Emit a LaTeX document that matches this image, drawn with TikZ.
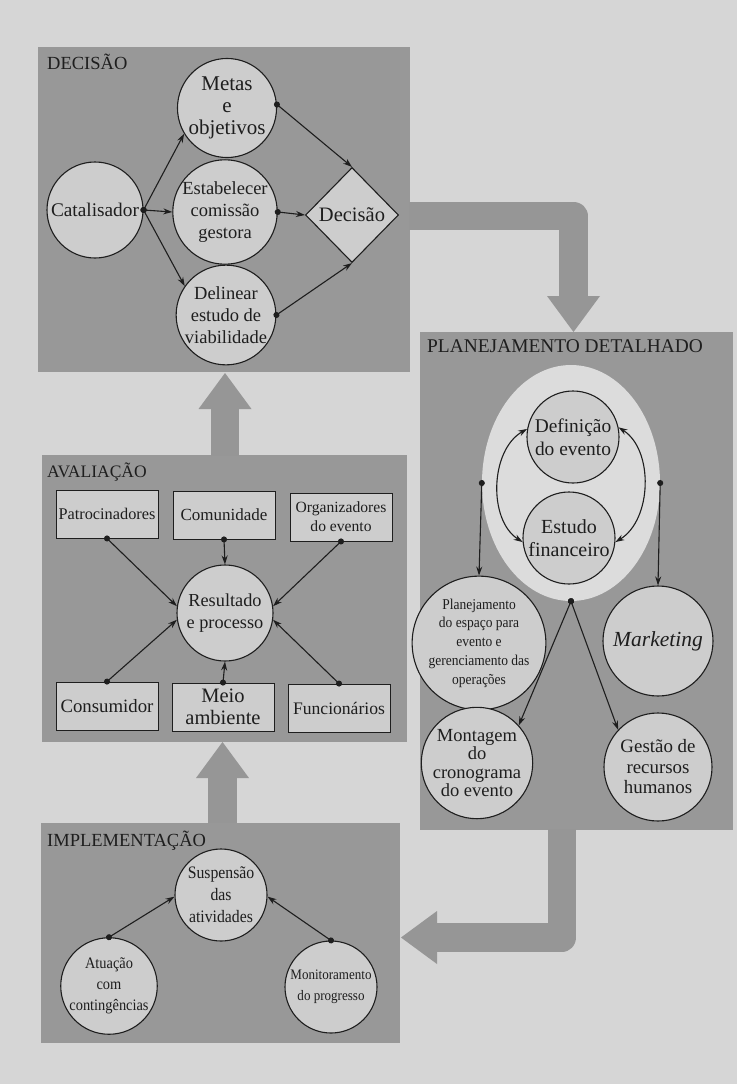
\documentclass[tikz,border=0pt]{standalone}
\usepackage{fontspec}
\setmainfont{Liberation Serif}
\newfontfamily\condfont[FakeStretch=0.9]{Liberation Serif}
\usetikzlibrary{shapes.geometric,arrows.meta}
\definecolor{bg}{RGB}{214,214,214}
\definecolor{boxgray}{RGB}{152,152,152}
\definecolor{circfill}{RGB}{205,205,205}
\definecolor{ellfill}{RGB}{220,220,220}
\definecolor{arrgray}{RGB}{150,150,150}
\definecolor{ink}{RGB}{30,30,30}
\newcommand\fsz[2]{\fontsize{#1}{#2}\selectfont}
\begin{document}
\begin{tikzpicture}[x=1pt,y=-1pt,
 panel/.style={fill=boxgray, draw=none, inner sep=0, anchor=north west},
 hdr/.style={anchor=base west, inner sep=0, font=\fsz{18.5}{22}, text=ink},
 circ/.style={circle, draw=ink, line width=1.1pt, fill=circfill, inner sep=0, align=center, text=ink, font=\fsz{18.5}{22}},
 rbox/.style={rectangle, draw=ink, line width=0.9pt, fill=circfill, inner sep=0, minimum width=102pt, minimum height=48pt, align=center, text=ink},
 conn/.style={draw=ink, line width=1.1pt, {Circle[length=6pt]}-{Stealth[length=9pt,width=6pt]}, shorten <=-3pt},
 arctwo/.style={draw=ink, line width=1.1pt, {Stealth[length=9pt,width=6pt]}-{Stealth[length=9pt,width=6pt]}},
 bigarrow/.style={draw=arrgray, line width=28.5pt, line join=round, -{Triangle[length=36pt,width=53pt,line width=0pt]}},
]
\useasboundingbox (0,0) rectangle (737,1084);
\fill[bg] (0,0) rectangle (737,1084);

% panels
\node[panel, minimum width=372pt, minimum height=325pt] (pdec) at (38,47) {};
\node[panel, minimum width=313pt, minimum height=498pt] (pplan) at (420,332) {};
\node[panel, minimum width=365pt, minimum height=287pt] (paval) at (42,455) {};
\node[panel, minimum width=359pt, minimum height=220pt] (pimpl) at (41,823) {};

% big arrows
\coordinate (a1s) at (409,216); \coordinate (a1c) at (573.5,216); \coordinate (a1e) at (573.5,332);
\coordinate (a2s) at (562,829); \coordinate (a2c) at (562,937.5); \coordinate (a2e) at (401,937.5);
\coordinate (a3s) at (225,456); \coordinate (a3e) at (225,373);
\coordinate (a4s) at (222.5,823); \coordinate (a4e) at (222.5,742);
\draw[bigarrow] (a1s) -- (a1c) -- (a1e);
\draw[bigarrow] (a2s) -- (a2c) -- (a2e);
\draw[bigarrow] (a3s) -- (a3e);
\draw[bigarrow] (a4s) -- (a4e);

% headers
\node[hdr] (hdec) at (47,69) {DECISÃO};
\node[hdr, font=\fsz{17.5}{20}] (haval) at (47,477) {AVALIAÇÃO};
\node[hdr, font=\fsz{19.4}{22}] (hplan) at (427,352) {PLANEJAMENTO DETALHADO};
\node[hdr] (himpl) at (47,846) {IMPLEMENTAÇÃO};

% DECISAO
\node[circ, minimum size=96pt, font=\fsz{19.3}{22}] (cat) at (95,210) {Catalisador};
\node[circ, minimum size=96pt, font=\fsz{21}{22}] (metas) at (227,108) {Metas\\e\\objetivos};
\node[circ, minimum size=96pt] (estab) at (225,212) {Estabelecer\\comissão\\gestora};
\node[circ, minimum size=97pt] (delin) at (226,315) {Delinear\\estudo de\\viabilidade};
\node[diamond, draw=ink, line width=1.1pt, fill=circfill, minimum width=93pt, minimum height=95pt, inner sep=0, font=\fsz{20.5}{22}, text=ink] (dec) at (352,215) {Decisão};
\draw[conn] (cat.east) -- (metas.211);
\draw[conn] (cat.east) -- (estab.west);
\draw[conn] (cat.east) -- (delin.145);
\draw[conn] (metas.4) -- (dec.north);
\draw[conn] (estab.east) -- (dec.west);
\draw[conn] (delin.east) -- (dec.south);

% AVALIACAO
\node[rbox, font=\fsz{16.3}{19}] (patro) at (107,514) {Patrocinadores};
\node[rbox, font=\fsz{17}{20}] (comun) at (224,515) {Comunidade};
\node[rbox, font=\fsz{15.6}{19}] (organ) at (341,517) {Organizadores\\do evento};
\node[circ, minimum size=96pt, font=\fsz{18.3}{22}] (res) at (225,613) {Resultado\\e processo};
\node[rbox, font=\fsz{18.8}{22}] (consu) at (107,706) {Consumidor};
\node[rbox, font=\fsz{20.5}{21.5}] (meio) at (223,707) {Meio\\ambiente};
\node[rbox, font=\fsz{17.6}{21}] (func) at (339,708) {Funcionários};
\draw[conn] (patro.south) -- (res.172);
\draw[conn] (comun.south) -- (res.north);
\draw[conn] (organ.south) -- (res.8);
\draw[conn] (consu.north) -- (res.188);
\draw[conn] (meio.north) -- (res.south);
\draw[conn] (func.north) -- (res.-8);

% PLANEJAMENTO
\node[ellipse, fill=ellfill, draw=none, minimum width=178pt, minimum height=236pt, inner sep=0] (ell) at (571,483) {};
\node[circ, minimum size=92pt, font=\fsz{19.4}{23}] (defi) at (573,437) {Definição\\do evento};
\node[circ, minimum size=92pt, font=\fsz{20}{23}] (estu) at (569,538) {Estudo\\financeiro};
\node[circ, minimum size=108pt, font=\condfont\fsz{15}{18.7}] (pesp) at (479,643) {Planejamento\\do espaço para\\evento e\\gerenciamento das\\operações};
\node[circ, minimum size=110pt, font=\itshape\fsz{21.5}{24}] (mkt) at (658,641) {Marketing};
\node[circ, minimum size=106pt, font=\fsz{18.5}{18.5}] (mont) at (477,763) {Montagem\\do\\cronograma\\do evento};
\node[circ, minimum size=108pt, font=\fsz{18.9}{20.5}] (gest) at (658,767) {Gestão de\\recursos\\humanos};
\draw[arctwo] (defi.170) .. controls (490,450) and (488,520) .. (estu.185);
\draw[arctwo] (defi.12) .. controls (654,450) and (652,520) .. (estu.-5);
\draw[conn] (ell.west) -- (pesp.north);
\draw[conn] (ell.east) -- (mkt.north);
\draw[conn] (ell.south) -- (mont.42);
\draw[conn] (ell.south) -- (gest.137);

% IMPLEMENTACAO
\node[circ, minimum size=92pt, font=\condfont\fsz{17.5}{22}] (susp) at (221,895) {Suspensão\\das\\atividades};
\node[circ, minimum size=92pt, font=\condfont\fsz{16}{20.7}] (atua) at (109,986) {Atuação\\com\\contingências};
\node[circ, minimum size=92pt, font=\condfont\fsz{14.5}{21}] (moni) at (331,987) {Monitoramento\\do progresso};
\draw[conn] (atua.north) -- (susp.182);
\draw[conn] (moni.north) -- (susp.-2);
\end{tikzpicture}
\end{document}
